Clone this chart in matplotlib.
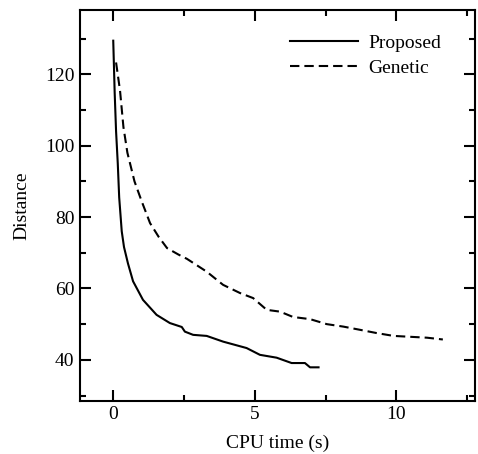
import matplotlib
matplotlib.use("Agg")
import matplotlib.pyplot as plt

plt.rcParams['font.family'] = ['Liberation Serif', 'DejaVu Serif']
plt.rcParams['font.size'] = 14

# Proposed method (solid)
prop_t = [0.0, 0.05, 0.1, 0.16, 0.21, 0.3, 0.38, 0.52, 0.7, 1.05, 1.53, 2.0,
          2.42, 2.53, 2.82, 3.3, 3.88, 4.71, 5.18, 5.77, 6.3, 6.77, 6.95, 7.25]
prop_d = [129.4, 115.0, 104.0, 95.0, 85.5, 76.0, 71.6, 67.0, 62.0, 56.8, 52.6, 50.3,
          49.2, 47.9, 47.0, 46.7, 45.1, 43.3, 41.4, 40.6, 39.1, 39.1, 37.9, 37.9]

# Genetic algorithm (dashed)
gen_t = [0.1, 0.24, 0.36, 0.5, 0.75, 1.0, 1.3, 1.6, 1.9, 2.3, 2.6, 3.3, 3.88,
         4.48, 4.94, 5.42, 5.89, 6.35, 6.95, 7.54, 8.13, 8.72, 9.3, 9.9, 11.08, 11.64]
gen_d = [123.3, 115.4, 105.2, 98.0, 90.0, 84.5, 78.3, 74.5, 71.3, 69.5, 68.3, 64.7, 61.0,
         58.7, 57.3, 54.0, 53.5, 52.0, 51.4, 50.0, 49.3, 48.4, 47.5, 46.7, 46.2, 45.7]

fig = plt.figure(figsize=(4.78, 4.54), dpi=100)
ax = fig.add_axes([0.167, 0.117, 0.827, 0.861])

ax.plot(prop_t, prop_d, color='black', lw=1.5, label='Proposed')
ax.plot(gen_t, gen_d, color='black', lw=1.5, linestyle=(0, (4.5, 2.4)), label='Genetic')

ax.set_xlim(-1.18, 12.78)
ax.set_ylim(28.5, 138)
ax.set_xticks([0, 5, 10])
ax.set_xticks([2.5, 7.5, 12.5], minor=True)
ax.set_yticks([40, 60, 80, 100, 120])
ax.set_yticks([30, 50, 70, 90, 110, 130], minor=True)
ax.tick_params(which='both', direction='in', top=True, right=True, width=1.5)
ax.tick_params(which='major', length=8, pad=4)
ax.tick_params(which='minor', length=4)
for s in ax.spines.values():
    s.set_linewidth(1.5)

ax.set_xlabel('CPU time (s)', labelpad=8)
ax.set_ylabel('Distance', labelpad=10)

ax.legend(loc='upper left', bbox_to_anchor=(0.532, 0.937), frameon=False,
          handlelength=3.5, handletextpad=0.5, borderpad=0, borderaxespad=0,
          labelspacing=0.38)

fig.savefig('out.png', dpi=100)
